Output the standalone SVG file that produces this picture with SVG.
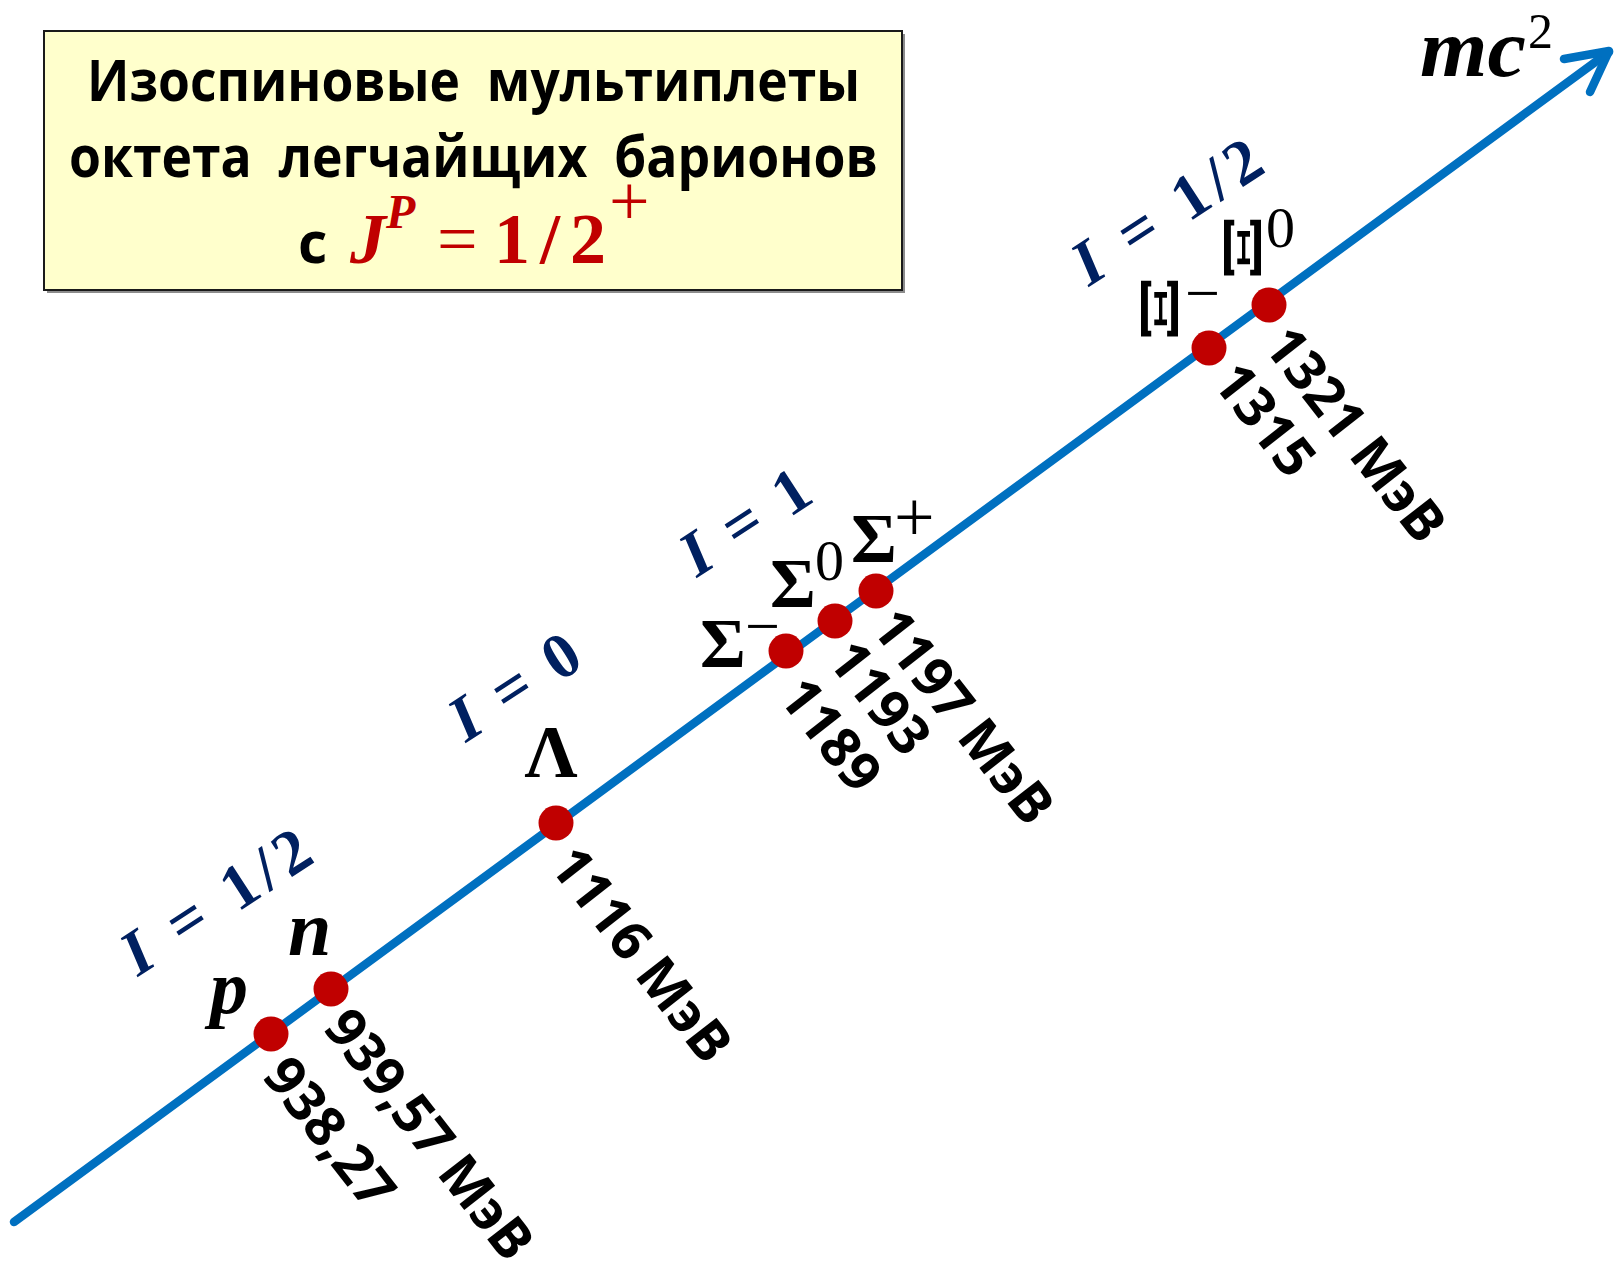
<svg xmlns="http://www.w3.org/2000/svg" width="1614" height="1268" viewBox="0 0 1614 1268">
<style>
.title{font-family:"Open Sans","Noto Sans","DejaVu Sans",sans-serif;font-weight:700;font-size:57px;fill:#000;white-space:pre}
.mass{font-family:"Open Sans","Noto Sans","DejaVu Sans",sans-serif;font-weight:700;font-size:55px;fill:#000}
.iso{font-family:"Liberation Serif","DejaVu Serif",serif;font-weight:700;font-size:64px;fill:#002060}
.sym{font-family:"Liberation Serif","DejaVu Serif",serif;font-weight:700;fill:#000}
.xi{font-family:"DejaVu Serif","Liberation Serif",serif;font-weight:700;font-size:50px;fill:#000}
.sup{font-family:"Liberation Serif","DejaVu Serif",serif;font-weight:400;fill:#000}
.red{fill:#C00000}
.dot{fill:#C00000}
.axis{stroke:#0070C0;stroke-width:8.5;fill:none;stroke-linecap:round;stroke-linejoin:round}
</style>

<g id="title-box">
  <rect x="47" y="34" width="858" height="259" fill="#8c8c8c"/>
  <rect x="44" y="31" width="858" height="259" fill="#FFFFCC" stroke="#1a1a1a" stroke-width="2"/>
  <text class="title" x="87" y="101" textLength="773" lengthAdjust="spacingAndGlyphs" xml:space="preserve">Изоспиновые  мультиплеты</text>
  <text class="title" x="69" y="177" textLength="809" lengthAdjust="spacingAndGlyphs" xml:space="preserve">октета  легчайщих  барионов</text>
  <text class="title" x="298" y="263" font-size="60">с</text>
  <text class="sym red" x="350" y="263" font-size="72" font-style="italic">J</text>
  <text class="sym red" x="386" y="228" font-size="48" font-style="italic">P</text>
  <text class="sup red" x="437" y="263" font-size="72">=</text>
  <text class="sym red" x="494" y="263" font-size="72" textLength="112" lengthAdjust="spacing">1/2</text>
  <text class="sup red" x="609" y="225" font-size="72">+</text>
</g>

<g id="connectors">
  <path class="axis" d="M14,1222 L1609,52"/>
  <path class="axis" stroke-width="9.5" d="M1564,59 L1609,51 L1590,92"/>
</g>

<g id="axis-label">
  <text class="sym" x="1420" y="76" font-size="82" font-style="italic" textLength="106" lengthAdjust="spacingAndGlyphs">mc</text>
  <text class="sup" x="1528" y="48" font-size="50">2</text>
</g>

<g id="iso-labels">
  <text class="iso" transform="translate(138,977) rotate(-33)" textLength="213" lengthAdjust="spacing"><tspan font-style="italic">I</tspan> = 1/2</text>
  <text class="iso" transform="translate(466,743) rotate(-33)" textLength="143" lengthAdjust="spacing"><tspan font-style="italic">I</tspan> = 0</text>
  <text class="iso" transform="translate(697,578) rotate(-33)" textLength="142" lengthAdjust="spacing"><tspan font-style="italic">I</tspan> = 1</text>
  <text class="iso" transform="translate(1089,287) rotate(-33)" textLength="213" lengthAdjust="spacing"><tspan font-style="italic">I</tspan> = 1/2</text>
</g>

<g id="node-p">
  <circle class="dot" cx="271" cy="1034" r="17.5"/>
  <text class="sym" x="210" y="1013" font-size="76" font-style="italic">p</text>
  <text class="mass" transform="translate(261,1076) rotate(52)" textLength="174" lengthAdjust="spacingAndGlyphs">938,27</text>
</g>

<g id="node-n">
  <circle class="dot" cx="331" cy="989" r="17.5"/>
  <text class="sym" x="288" y="955" font-size="78" font-style="italic">n</text>
  <text class="mass" transform="translate(322,1028) rotate(52)" textLength="300" lengthAdjust="spacingAndGlyphs">939,57 МэВ</text>
</g>

<g id="node-lambda">
  <circle class="dot" cx="556" cy="823" r="17.5"/>
  <text class="sym" x="551" y="777" font-size="74" text-anchor="middle">Λ</text>
  <text class="mass" transform="translate(548,866) rotate(52)" textLength="255" lengthAdjust="spacingAndGlyphs">1116 МэВ</text>
</g>

<g id="node-sigma-minus">
  <circle class="dot" cx="786" cy="651" r="17.5"/>
  <text class="sym" x="700" y="667" font-size="70">Σ</text>
  <text class="sup" x="745" y="647" font-size="62">−</text>
  <text class="mass" transform="translate(777,697) rotate(52)" textLength="126" lengthAdjust="spacingAndGlyphs">1189</text>
</g>

<g id="node-sigma-zero">
  <circle class="dot" cx="835" cy="621" r="17.5"/>
  <text class="sym" x="770" y="607" font-size="70">Σ</text>
  <text class="sup" x="815" y="580" font-size="58">0</text>
  <text class="mass" transform="translate(826,660) rotate(52)" textLength="126" lengthAdjust="spacingAndGlyphs">1193</text>
</g>

<g id="node-sigma-plus">
  <circle class="dot" cx="876" cy="591" r="17.5"/>
  <text class="sym" x="851" y="562" font-size="70">Σ</text>
  <text class="sup" x="894" y="541" font-size="72">+</text>
  <text class="mass" transform="translate(870,628) rotate(52)" textLength="255" lengthAdjust="spacingAndGlyphs">1197 МэВ</text>
</g>

<g id="node-xi-minus">
  <circle class="dot" cx="1209" cy="348" r="17.5"/>
  <text class="xi" transform="translate(1159.5,309) rotate(90) scale(1.9,1)" y="18" text-anchor="middle">Ξ</text>
  <text class="sup" x="1185" y="314" font-size="62">−</text>
  <text class="mass" transform="translate(1211,382) rotate(52)" textLength="126" lengthAdjust="spacingAndGlyphs">1315</text>
</g>

<g id="node-xi-zero">
  <circle class="dot" cx="1269" cy="305" r="17.5"/>
  <text class="xi" transform="translate(1242.5,248) rotate(90) scale(1.9,1)" y="18" text-anchor="middle">Ξ</text>
  <text class="sup" x="1266" y="247" font-size="58">0</text>
  <text class="mass" transform="translate(1262,346) rotate(52)" textLength="255" lengthAdjust="spacingAndGlyphs">1321 МэВ</text>
</g>
</svg>
